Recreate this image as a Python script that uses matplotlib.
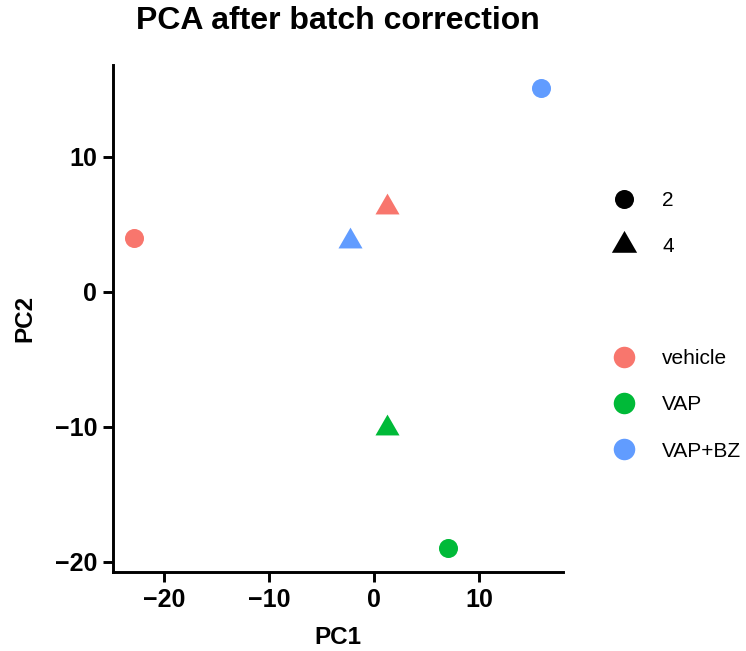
import numpy as np
import matplotlib
matplotlib.use('Agg')
import matplotlib.pyplot as plt
from matplotlib.lines import Line2D
from matplotlib.path import Path

plt.rcParams['font.family'] = ['Liberation Sans', 'DejaVu Sans']

# PCA scores per sample
GROUPS = ['vehicle', 'VAP', 'VAP+BZ']
COLORS = {'vehicle': '#F8766D', 'VAP': '#00BA38', 'VAP+BZ': '#619CFF'}
SAMPLE_GROUP = ['vehicle', 'vehicle', 'VAP', 'VAP', 'VAP+BZ', 'VAP+BZ']
SAMPLE_BATCH = ['2', '4', '2', '4', '2', '4']
PC1 = [-22.9, 1.2, 7.0, 1.2, 15.9, -2.3]
PC2 = [4.0, 6.3, -19.0, -10.1, 15.1, 3.8]
BATCHES = ['2', '4']

# triangle centred on its centroid (like R's pch 17)
TRI = Path([(0, 1), (-0.866, -0.5), (0.866, -0.5), (0, 1)],
           [Path.MOVETO, Path.LINETO, Path.LINETO, Path.CLOSEPOLY])
MARKERS = {'2': 'o', '4': TRI}
SIZES = {'2': 13.7, '4': 20}

W, H = 746, 651
fig = plt.figure(figsize=(W / 100, H / 100), dpi=100)
ax = fig.add_axes([113 / W, 1 - 572 / H, (563 - 113) / W, (572 - 65) / H])

for x, y, g, b in zip(PC1, PC2, SAMPLE_GROUP, SAMPLE_BATCH):
    ax.plot([x], [y], ls='', marker=MARKERS[b], ms=SIZES[b], color=COLORS[g],
            markeredgewidth=0, zorder=3)

ax.set_xlim(-24.9, 18.0)
ax.set_ylim(-20.75, 16.8)
ax.set_xticks([-20, -10, 0, 10])
ax.set_yticks([-20, -10, 0, 10])
ax.set_xticklabels(['\u221220', '\u221210', '0', '10'])
ax.set_yticklabels(['\u221220', '\u221210', '0', '10'])
for s in ['top', 'right']:
    ax.spines[s].set_visible(False)
for s in ['left', 'bottom']:
    ax.spines[s].set_linewidth(2.1)
ax.tick_params(width=2.1, length=7.5, labelsize=18, pad=4, color='black')
for lab in ax.get_xticklabels() + ax.get_yticklabels():
    lab.set_fontweight('bold')

ax.set_xlabel('PC1', fontsize=17.5, fontweight='bold', labelpad=10)
ax.set_ylabel('PC2', fontsize=17.5, fontweight='bold', labelpad=13)
fig.text(338 / W, 1 - 21 / H, 'PCA after batch correction', ha='center', va='center',
         fontsize=23, fontweight='bold')

# shape legend (batch)
shape_handles = [Line2D([], [], ls='', marker=MARKERS[b], ms=SIZES[b] * (1.0 if b == '2' else 1.05),
                        color='black', markeredgewidth=0) for b in BATCHES]
leg_kw = dict(frameon=False, fontsize=15, borderpad=0, borderaxespad=0,
              handlelength=1.5, handletextpad=1.09, labelspacing=1.3,
              loc='center left', bbox_transform=fig.transFigure)
leg1 = fig.legend(shape_handles, BATCHES, bbox_to_anchor=(608.4 / W, 1 - 223.5 / H), **leg_kw)

# colour legend (treatment)
color_handles = [Line2D([], [], ls='', marker='o', ms=15.5, color=COLORS[g],
                        markeredgewidth=0) for g in GROUPS]
leg2 = fig.legend(color_handles, GROUPS, bbox_to_anchor=(608.4 / W, 1 - 405 / H), **leg_kw)

fig.savefig('out.png', dpi=100)
